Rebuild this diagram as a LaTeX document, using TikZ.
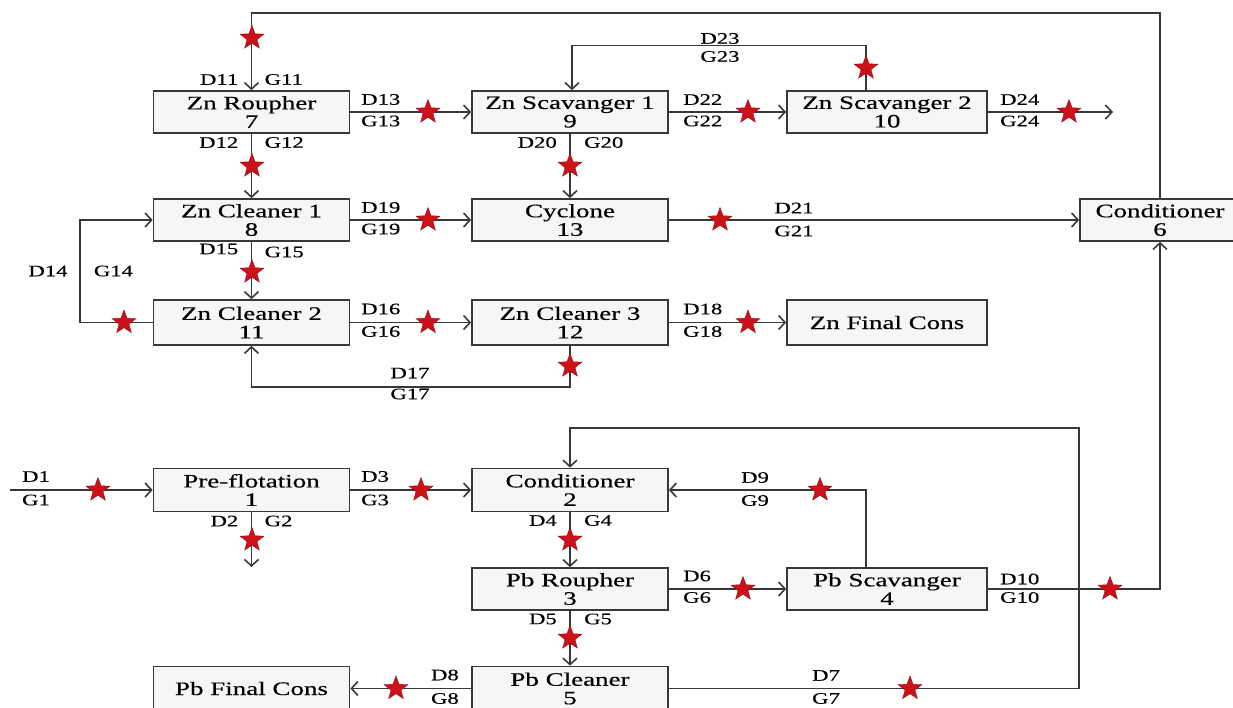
\documentclass[tikz,border=0pt]{standalone}
\usepackage{fontspec}
\setmainfont{Liberation Serif}[FakeStretch=1.42,FakeBold=0.4]
\usetikzlibrary{shapes.geometric,arrows.meta,calc}
\definecolor{starred}{HTML}{CC1118}
\definecolor{linec}{HTML}{383838}
\definecolor{boxfill}{HTML}{F6F6F6}
\begin{document}
\begin{tikzpicture}[x=1pt,y=-1pt,
  proc/.style={draw=linec, fill=boxfill, line width=1.7pt, minimum width=196pt, minimum height=42pt, inner sep=0pt, align=center, font=\fontsize{19}{18.5}\selectfont},
  lbl/.style={inner sep=0pt, font=\fontsize{16}{16}\selectfont},
  flow/.style={draw=linec, line width=1.6pt, -{Straight Barb[length=6.5pt,width=14pt]}},
  starmark/.style={star, star points=5, star point ratio=2.4, minimum size=25pt, inner sep=0pt, fill=starred, draw=starred!70!black, line width=0.4pt}]
\useasboundingbox (0,0) rectangle (1233,707);
\clip (0,0) rectangle (1233,707);
% boxes
\node[proc] (n7) at (251.5,112) {Zn Roupher\\7};
\node[proc] (n9) at (570,112) {Zn Scavanger 1\\9};
\node[proc, minimum width=200pt] (n10) at (887,112) {Zn Scavanger 2\\10};
\node[proc] (n8) at (251.5,220) {Zn Cleaner 1\\8};
\node[proc] (n13) at (570,220) {Cyclone\\13};
\node[proc, minimum width=160pt] (n6) at (1160,220) {Conditioner\\6};
\node[proc, minimum height=45pt] (n11) at (251.5,322.5) {Zn Cleaner 2\\11};
\node[proc, minimum height=45pt] (n12) at (570,322.5) {Zn Cleaner 3\\12};
\node[proc, minimum width=200pt, minimum height=45pt] (zfc) at (887,322.5) {Zn Final Cons};
\node[proc, minimum height=43pt] (n1) at (251.5,490) {Pre-flotation\\1};
\node[proc, minimum height=43pt] (n2) at (570,490) {Conditioner\\2};
\node[proc] (n3) at (570,589) {Pb Roupher\\3};
\node[proc, minimum width=200pt] (n4) at (887,589) {Pb Scavanger\\4};
\node[proc, minimum height=44pt] (n5) at (570,688.5) {Pb Cleaner\\5};
\node[proc, minimum height=44pt] (pfc) at (251.5,688.5) {Pb Final Cons};
% connectors
\coordinate (topY) at (0,13);
\draw[flow] (n6.north) -- (n6.north |- topY) -| (n7.north);
\draw[flow] (n7.east) -- (n9.west);
\draw[flow] (n7.south) -- (n8.north);
\draw[flow] ([xshift=-21pt]n10.north) -- ++(0,-44.5) -| ([xshift=2pt]n9.north);
\draw[flow] (n9.east) -- (n10.west);
\coordinate (out24) at (1113,112);
\draw[flow] (n10.east) -- (out24);
\draw[flow] (n9.south) -- (n13.north);
\draw[flow] (n8.east) -- (n13.west);
\draw[flow] (n13.east) -- (n6.west);
\draw[flow] (n8.south) -- (n11.north);
\draw[flow] (n11.west) -- ++(-72.5,0) |- (n8.west);
\draw[flow] (n11.east) -- (n12.west);
\draw[flow] (n12.east) -- (zfc.west);
\draw[flow] (n12.south) -- ++(0,41) -| (n11.south);
\coordinate (in1) at (10,490);
\draw[flow] (in1) -- (n1.west);
\draw[flow] (n1.east) -- (n2.west);
\coordinate (out2) at (251.5,567);
\draw[flow] (n1.south) -- (out2);
\draw[flow] (n2.south) -- (n3.north);
\draw[flow] (n3.east) -- (n4.west);
\draw[flow] (n3.south) -- (n5.north);
\coordinate (r7) at (1079,428);
\draw[flow] (n5.east) -| (r7) -| (n2.north);
\draw[flow] ([xshift=-21pt]n4.north) |- (n2.east);
\draw[flow] (n4.east) -| (n6.south);
\draw[flow] (n5.west) -- (pfc.east);
% labels
\node[lbl, anchor=east] (d11) at (238.5,79.5) {D11};
\node[lbl, anchor=west] (g11) at (264.5,79.5) {G11};
\node[lbl, anchor=west] (d13) at (361,99.5) {D13};
\node[lbl, anchor=west] (g13) at (361,121) {G13};
\node[lbl, anchor=east] (d12) at (238.5,142.5) {D12};
\node[lbl, anchor=west] (g12) at (264.5,142.5) {G12};
\node[lbl, anchor=east] (d20) at (557,142.5) {D20};
\node[lbl, anchor=west] (g20) at (584,142.5) {G20};
\node[lbl] (d23) at (720,38.5) {D23};
\node[lbl] (g23) at (720,56.5) {G23};
\node[lbl, anchor=west] (d22) at (683,99.5) {D22};
\node[lbl, anchor=west] (g22) at (683,121) {G22};
\node[lbl, anchor=west] (d24) at (1000,99.5) {D24};
\node[lbl, anchor=west] (g24) at (1000,121) {G24};
\node[lbl, anchor=west] (d19) at (361,207.5) {D19};
\node[lbl, anchor=west] (g19) at (361,229) {G19};
\node[lbl] (d21) at (794,208) {D21};
\node[lbl] (g21) at (794,231) {G21};
\node[lbl, anchor=east] (d15) at (238.5,249) {D15};
\node[lbl, anchor=west] (g15) at (264.5,252) {G15};
\node[lbl] (d14) at (48,271) {D14};
\node[lbl] (g14) at (113.5,271) {G14};
\node[lbl, anchor=west] (d16) at (361,309) {D16};
\node[lbl, anchor=west] (g16) at (361,331.5) {G16};
\node[lbl, anchor=west] (d18) at (683,309) {D18};
\node[lbl, anchor=west] (g18) at (683,331.5) {G18};
\node[lbl] (d17) at (410,373) {D17};
\node[lbl] (g17) at (410,394) {G17};
\node[lbl] (d1) at (36,476.5) {D1};
\node[lbl] (g1) at (36,500) {G1};
\node[lbl, anchor=west] (d3) at (361,476.5) {D3};
\node[lbl, anchor=west] (g3) at (361,500) {G3};
\node[lbl, anchor=east] (d2) at (238.5,521) {D2};
\node[lbl, anchor=west] (g2) at (264.5,521) {G2};
\node[lbl] (d9) at (755,477.5) {D9};
\node[lbl] (g9) at (755,500.5) {G9};
\node[lbl, anchor=east] (d4) at (557,520.5) {D4};
\node[lbl, anchor=west] (g4) at (584,520.5) {G4};
\node[lbl, anchor=west] (d6) at (683,576) {D6};
\node[lbl, anchor=west] (g6) at (683,597.5) {G6};
\node[lbl, anchor=west] (d10) at (1000,579) {D10};
\node[lbl, anchor=west] (g10) at (1000,597.5) {G10};
\node[lbl, anchor=east] (d5) at (557,619) {D5};
\node[lbl, anchor=west] (g5) at (584,619) {G5};
\node[lbl, anchor=east] (d8) at (459,675) {D8};
\node[lbl, anchor=east] (g8) at (459,698.5) {G8};
\node[lbl] (d7) at (826,675.5) {D7};
\node[lbl] (g7) at (826,698.5) {G7};
% stars
\node[starmark] (s1) at (252,38) {};
\node[starmark] (s2) at (428,112) {};
\node[starmark] (s3) at (252,166) {};
\node[starmark] (s4) at (570,166) {};
\node[starmark] (s5) at (866,68) {};
\node[starmark] (s6) at (748,112) {};
\node[starmark] (s7) at (1069,112) {};
\node[starmark] (s8) at (428,220) {};
\node[starmark] (s9) at (720,220) {};
\node[starmark] (s10) at (252,272) {};
\node[starmark] (s11) at (124,322.5) {};
\node[starmark] (s12) at (428,322.5) {};
\node[starmark] (s13) at (748,322.5) {};
\node[starmark] (s14) at (570,366) {};
\node[starmark] (s15) at (98,490) {};
\node[starmark] (s16) at (421,490) {};
\node[starmark] (s17) at (252,540) {};
\node[starmark] (s18) at (820,490) {};
\node[starmark] (s19) at (570,540) {};
\node[starmark] (s20) at (743,589) {};
\node[starmark] (s21) at (1110,589) {};
\node[starmark] (s22) at (570,638) {};
\node[starmark] (s23) at (396,688.5) {};
\node[starmark] (s24) at (910,688.5) {};
\end{tikzpicture}
\end{document}
